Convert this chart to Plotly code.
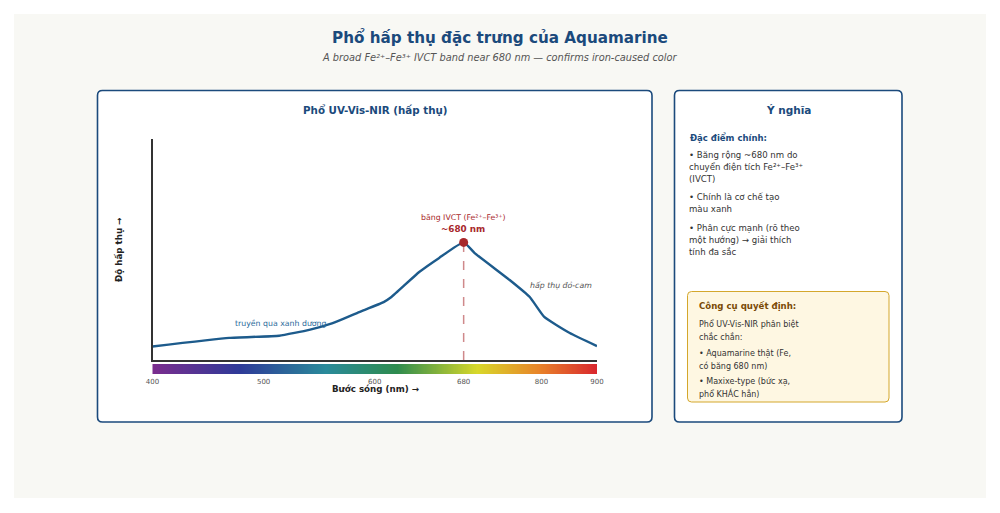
import numpy as np
import plotly.graph_objects as go

# ---------------- data ----------------
wavelength_nm = [400, 469, 514, 541, 560, 586, 608, 615, 640, 658, 680, 697, 751, 782, 805, 851, 900]
absorbance = [0.061, 0.100, 0.110, 0.136, 0.163, 0.217, 0.262, 0.285, 0.398, 0.462, 0.532, 0.484, 0.362, 0.285, 0.195, 0.122, 0.063]
peak_nm = 680
peak_abs = 0.532
tick_nm = [400, 500, 600, 680, 800, 900]
tick_labels = ["400", "500", "600", "680", "800", "900"]
# positions (percent of axis length) at which the reference draws each tick
tick_axis_pos = [0, 25, 50, 70, 87.5, 100]

FONT = "DejaVu Sans"
NAVY = "#1b4a7c"
DARKRED = "#a8282b"


def to_axis(nm):
    return np.interp(nm, tick_nm, tick_axis_pos)


def px(x):
    return x / 1000.0


def py(y):
    return 1 - y / 513.0


def rrect(x0, y0, x1, y1, r):
    pts = [
        f"M {px(x0 + r)} {py(y0)}",
        f"L {px(x1 - r)} {py(y0)}",
        f"Q {px(x1)} {py(y0)} {px(x1)} {py(y0 + r)}",
        f"L {px(x1)} {py(y1 - r)}",
        f"Q {px(x1)} {py(y1)} {px(x1 - r)} {py(y1)}",
        f"L {px(x0 + r)} {py(y1)}",
        f"Q {px(x0)} {py(y1)} {px(x0)} {py(y1 - r)}",
        f"L {px(x0)} {py(y0 + r)}",
        f"Q {px(x0)} {py(y0)} {px(x0 + r)} {py(y0)}",
        "Z",
    ]
    return " ".join(pts)


fig = go.Figure()

# spectrum curve
fig.add_trace(go.Scatter(
    x=to_axis(wavelength_nm), y=absorbance, mode="lines",
    line=dict(color="#1d5b8c", width=2.4, shape="spline", smoothing=0.4),
    hoverinfo="skip", showlegend=False, xaxis="x", yaxis="y"))

# dashed guide to the peak
fig.add_trace(go.Scatter(
    x=to_axis([peak_nm, peak_nm]), y=[0, peak_abs], mode="lines",
    line=dict(color="rgba(168,40,43,0.55)", width=1.5, dash="dash"),
    hoverinfo="skip", showlegend=False, xaxis="x", yaxis="y"))

# peak marker
fig.add_trace(go.Scatter(
    x=to_axis([peak_nm]), y=[peak_abs], mode="markers",
    marker=dict(color=DARKRED, size=9),
    hoverinfo="skip", showlegend=False, xaxis="x", yaxis="y"))

# rainbow strip
strip_x = np.linspace(0, 100, 401)
fig.add_trace(go.Heatmap(
    x=strip_x, y=[0], z=[strip_x], showscale=False, hoverinfo="skip",
    colorscale=[[0.0, "#7b2d8e"], [0.196, "#2e3a98"], [0.39, "#2a8a9a"],
                [0.55, "#2e8b4e"], [0.73, "#d8d82a"], [0.87, "#e8832a"],
                [1.0, "#d9262e"]],
    zmin=0, zmax=100, xaxis="x2", yaxis="y2"))

shapes = [
    dict(type="rect", xref="paper", yref="paper", x0=px(14), x1=px(986), y0=py(498), y1=py(14),
         fillcolor="#f8f8f4", line=dict(width=0), layer="below"),
    dict(type="path", xref="paper", yref="paper", path=rrect(97.5, 90.5, 652, 422, 5),
         fillcolor="white", line=dict(color=NAVY, width=1.6), layer="below"),
    dict(type="path", xref="paper", yref="paper", path=rrect(674.5, 90.5, 902, 422, 5),
         fillcolor="white", line=dict(color=NAVY, width=1.6), layer="below"),
    dict(type="path", xref="paper", yref="paper", path=rrect(687.5, 291.5, 889, 402, 4),
         fillcolor="#fef7e2", line=dict(color="#d4a72c", width=1), layer="below"),
]

ann = []


def text(x, y, s, size, color, bold=False, italic=False, xanchor="center", angle=0):
    if bold:
        s = f"<b>{s}</b>"
    if italic:
        s = f"<i>{s}</i>"
    ann.append(dict(x=px(x), y=py(y), xref="paper", yref="paper", text=s, showarrow=False,
                    xanchor=xanchor, yanchor="middle", textangle=angle,
                    font=dict(family=FONT, size=size, color=color)))


text(500, 37, "Phổ hấp thụ đặc trưng của Aquamarine", 15.2, NAVY, bold=True)
text(500, 57, "A broad Fe²⁺–Fe³⁺ IVCT band near 680 nm — confirms iron-caused color", 9.8, "#555555", italic=True)
text(375, 110, "Phổ UV-Vis-NIR (hấp thụ)", 10.3, NAVY, bold=True)
text(119, 250, "Độ hấp thụ →", 8.7, "#222222", bold=True, angle=-90)
text(375, 389, "Bước sóng (nm) →", 8.7, "#222222", bold=True)
text(463, 217, "băng IVCT (Fe²⁺–Fe³⁺)", 7.8, DARKRED)
text(463, 229, "~680 nm", 8.8, DARKRED, bold=True)
text(281, 323, "truyền qua xanh dương", 7.8, "#2a6a9a")
text(528, 285, "hấp thụ đỏ-cam", 7.8, "#555555", italic=True, xanchor="left")

# right panel
text(788, 110, "Ý nghĩa", 10.5, NAVY, bold=True)
text(688, 137, "Đặc điểm chính:", 8.5, NAVY, bold=True, xanchor="left")
right_lines = [
    (155, "• Băng rộng ~680 nm do"),
    (167, "chuyển điện tích Fe²⁺–Fe³⁺"),
    (179, "(IVCT)"),
    (197, "• Chính là cơ chế tạo"),
    (209, "màu xanh"),
    (228, "• Phân cực mạnh (rõ theo"),
    (240, "một hướng) → giải thích"),
    (252, "tính đa sắc"),
]
for yy, s in right_lines:
    text(687, yy, s, 8.6, "#333333", xanchor="left")

text(697, 306, "Công cụ quyết định:", 8.6, "#7a4a05", bold=True, xanchor="left")
box_lines = [
    (324, "Phổ UV-Vis-NIR phân biệt"),
    (337, "chắc chắn:"),
    (354, "• Aquamarine thật (Fe,"),
    (366, "có băng 680 nm)"),
    (382, "• Maxixe-type (bức xạ,"),
    (393, "phổ KHÁC hẳn)"),
]
for yy, s in box_lines:
    text(697, yy, s, 8.0, "#333333", xanchor="left")

fig.update_layout(
    width=1000, height=513, autosize=False,
    margin=dict(l=0, r=0, t=0, b=0, pad=0, autoexpand=False),
    paper_bgcolor="white", plot_bgcolor="rgba(0,0,0,0)",
    font=dict(family=FONT),
    shapes=shapes, annotations=ann, showlegend=False,
    xaxis=dict(domain=[px(152.5), px(597)], range=[0, 100], showgrid=False, zeroline=False,
               showticklabels=False, ticks="", showline=True, linecolor="#333333", linewidth=1.5,
               anchor="y", fixedrange=True, automargin=False),
    yaxis=dict(domain=[py(360), py(139)], range=[0, 1], showgrid=False, zeroline=False,
               showticklabels=False, ticks="", showline=True, linecolor="#333333", linewidth=1.5,
               anchor="x", fixedrange=True, automargin=False),
    xaxis2=dict(domain=[px(152.5), px(597)], range=[0, 100], matches="x", anchor="y2",
                showgrid=False, zeroline=False, showline=False, ticks="",
                tickvals=tick_axis_pos, ticktext=tick_labels, ticklabelstandoff=2,
                tickfont=dict(family=FONT, size=7, color="#555555"), fixedrange=True,
                automargin=False),
    yaxis2=dict(domain=[py(374), py(364)], range=[-0.5, 0.5], showgrid=False, zeroline=False,
                showticklabels=False, ticks="", showline=False, anchor="x2", fixedrange=True,
                automargin=False),
)

fig.write_html("out.html")
